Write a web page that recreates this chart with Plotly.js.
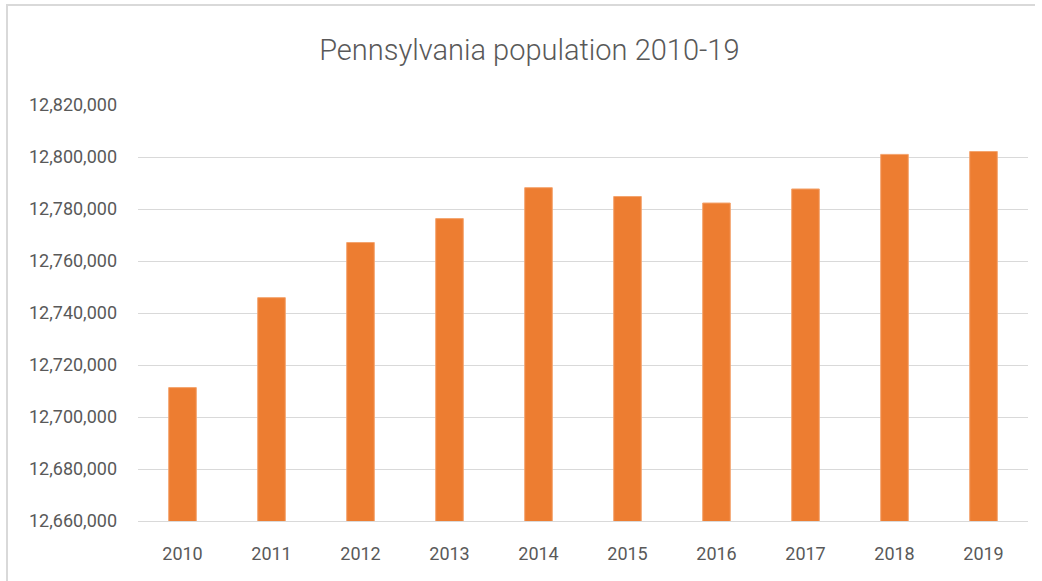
<!DOCTYPE html>
<html>
<head>
<meta charset="utf-8">
<script src="https://cdn.plot.ly/plotly-3.0.1.min.js"></script>
<style>
  html, body { margin: 0; padding: 0; background: #ffffff; }
  #wrap { position: relative; width: 1042px; height: 581px; }
  #chart { width: 1042px; height: 581px; }
  #frame { position: absolute; left: 6px; top: 4px; width: 1027px; height: 590px;
           border-left: 2px solid #d9d9d9; border-top: 2px solid #d9d9d9; pointer-events: none; }
</style>
</head>
<body>
<div id="wrap">
  <div id="chart"></div>
  <div id="frame"></div>
</div>
<script>
const years = ["2010", "2011", "2012", "2013", "2014", "2015", "2016", "2017", "2018", "2019"];
const population = [12711300, 12745900, 12767100, 12776300, 12788200, 12784800, 12782300, 12787700, 12801000, 12802100];
const yTickVals = [12660000, 12680000, 12700000, 12720000, 12740000, 12760000, 12780000, 12800000, 12820000];
const chartTitle = "Pennsylvania population 2010-19";

const fontFamily = "Roboto, 'Open Sans', sans-serif";
const textColor = "#595959";

const trace = {
  type: "bar",
  x: years,
  y: population,
  marker: { color: "#ED7D31", line: { color: "#F4A46E", width: 1 } },
  hoverinfo: "x+y"
};

const layout = {
  width: 1042,
  height: 581,
  margin: { l: 138, r: 14, t: 105, b: 60, pad: 0 },
  paper_bgcolor: "#ffffff",
  plot_bgcolor: "#ffffff",
  bargap: 0.69,
  showlegend: false,
  title: {
    text: chartTitle,
    font: { family: fontFamily, size: 29, color: textColor, weight: 300 },
    xref: "container",
    x: 0.508,
    xanchor: "center",
    yref: "container",
    y: 1 - 50 / 581,
    yanchor: "middle"
  },
  xaxis: {
    type: "category",
    showgrid: false,
    showline: true,
    linecolor: "#d9d9d9",
    linewidth: 1,
    ticks: "",
    tickfont: { family: fontFamily, size: 18, color: textColor },
    ticklabelstandoff: 16,
    zeroline: false
  },
  yaxis: {
    range: [12660000, 12820000],
    tickvals: yTickVals,
    tickformat: ",d",
    showgrid: true,
    gridcolor: "#d9d9d9",
    gridwidth: 1,
    showline: false,
    zeroline: false,
    ticks: "",
    tickfont: { family: fontFamily, size: 18, color: textColor },
    ticklabelstandoff: 20
  }
};

Plotly.newPlot("chart", [trace], layout, { displayModeBar: false, staticPlot: false });
</script>
</body>
</html>
